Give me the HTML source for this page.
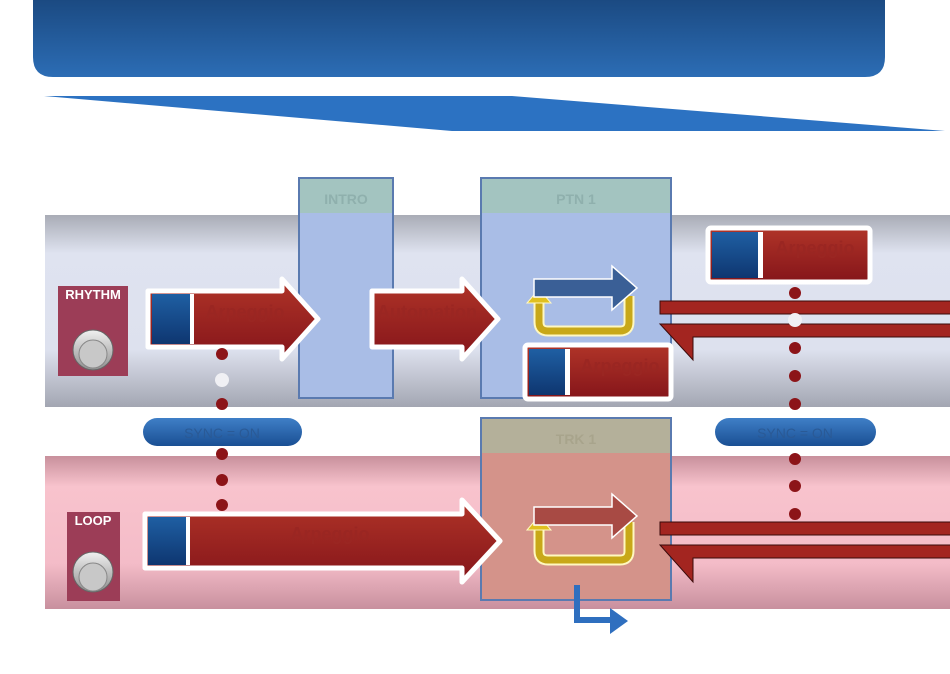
<!DOCTYPE html>
<html><head><meta charset="utf-8"><style>html,body{margin:0;padding:0;background:#fff}svg{display:block}</style></head><body>
<svg width="950" height="674" viewBox="0 0 950 674" xmlns="http://www.w3.org/2000/svg" font-family="Liberation Sans, sans-serif">
<defs>
<linearGradient id="ban" x1="0" y1="0" x2="0" y2="1"><stop offset="0" stop-color="#1b4a82"/><stop offset="1" stop-color="#2c6db5"/></linearGradient>
<linearGradient id="gray" x1="0" y1="0" x2="0" y2="1"><stop offset="0" stop-color="#a9acb6"/><stop offset="0.2" stop-color="#dfe3f0"/><stop offset="0.7" stop-color="#dde1ee"/><stop offset="1" stop-color="#a3a6b2"/></linearGradient>
<linearGradient id="pink" x1="0" y1="0" x2="0" y2="1"><stop offset="0" stop-color="#c8909c"/><stop offset="0.2" stop-color="#f8c3cd"/><stop offset="0.7" stop-color="#f4bcc8"/><stop offset="1" stop-color="#c8909e"/></linearGradient>
<linearGradient id="red" x1="0" y1="0" x2="0" y2="1"><stop offset="0" stop-color="#b03428"/><stop offset="1" stop-color="#85151a"/></linearGradient>
<linearGradient id="blu" x1="0" y1="0" x2="0" y2="1"><stop offset="0" stop-color="#1f5fa3"/><stop offset="1" stop-color="#0e3670"/></linearGradient>
<linearGradient id="pill" x1="0" y1="0" x2="0" y2="1"><stop offset="0" stop-color="#3f7fc7"/><stop offset="1" stop-color="#1a4f93"/></linearGradient>
<linearGradient id="btn" x1="0" y1="0" x2="0" y2="1"><stop offset="0" stop-color="#f0f0f0"/><stop offset="1" stop-color="#909090"/></linearGradient>
</defs>
<path d="M33 0H885V57Q885 77 865 77H53Q33 77 33 57Z" fill="url(#ban)"/>
<polygon points="44,96 512,96 945,131 452,131" fill="#2c72c2"/>
<rect x="45" y="215" width="905" height="192" fill="url(#gray)"/>
<rect x="45" y="456" width="905" height="153" fill="url(#pink)"/>
<rect x="299" y="178" width="94" height="220" fill="#a9bde6" stroke="#5a7ab0" stroke-width="2"/>
<rect x="300" y="179" width="92" height="34" fill="#a3c4c0"/>
<text x="346" y="204" text-anchor="middle" font-size="14" font-weight="bold" fill="#8fb0ad">INTRO</text>
<rect x="481" y="178" width="190" height="220" fill="#a9bde6" stroke="#5a7ab0" stroke-width="2"/>
<rect x="482" y="179" width="188" height="34" fill="#a3c4c0"/>
<text x="576" y="204" text-anchor="middle" font-size="14" font-weight="bold" fill="#8fb0ad">PTN 1</text>
<rect x="481" y="418" width="190" height="182" fill="#d4938a" stroke="#5a7ab0" stroke-width="2"/>
<rect x="482" y="419" width="188" height="34" fill="#b4b09a"/>
<text x="576" y="444" text-anchor="middle" font-size="14" font-weight="bold" fill="#a8a48c">TRK 1</text>
<rect x="58" y="286" width="70" height="90" fill="#9c3d57"/>
<text x="93" y="299" text-anchor="middle" font-size="13" font-weight="bold" fill="#fff">RHYTHM</text>
<circle cx="93" cy="350" r="20" fill="url(#btn)" stroke="#666"/><circle cx="93" cy="354" r="14" fill="#c8c8c8" stroke="#888"/>
<rect x="67" y="512" width="53" height="89" fill="#9c3d57"/>
<text x="93" y="525" text-anchor="middle" font-size="13" font-weight="bold" fill="#fff">LOOP</text>
<circle cx="93" cy="572" r="20" fill="url(#btn)" stroke="#666"/><circle cx="93" cy="577" r="14" fill="#c8c8c8" stroke="#888"/>
<g stroke="#fff" stroke-width="5" stroke-linejoin="round">
<path d="M148 291H282V279L318 319L282 359V347H148Z" fill="url(#red)"/>
<path d="M372 291H462V279L498 319L462 359V347H372Z" fill="url(#red)"/>
<path d="M145 514H462V500L500 541L462 582V568H145Z" fill="url(#red)"/>
<rect x="708" y="228" width="162" height="54" rx="3" fill="url(#red)"/>
<rect x="525" y="345" width="146" height="54" rx="3" fill="url(#red)"/>
</g>
<g font-size="18" font-weight="bold" fill="#9a2622" text-anchor="middle">
<text x="245" y="318">Arpeggio</text><text x="427" y="318">Automation</text>
<text x="330" y="540">Arpeggio</text><text x="815" y="254">Arpeggio</text><text x="620" y="372">Arpeggio</text>
</g>
<rect x="152" y="294" width="38" height="50" fill="url(#blu)"/><rect x="190" y="294" width="4" height="50" fill="#fff"/>
<rect x="148" y="517" width="38" height="48" fill="url(#blu)"/><rect x="186" y="517" width="4" height="48" fill="#fff"/>
<rect x="712" y="232" width="46" height="46" fill="url(#blu)"/><rect x="758" y="232" width="5" height="46" fill="#fff"/>
<rect x="529" y="349" width="36" height="46" fill="url(#blu)"/><rect x="565" y="349" width="5" height="46" fill="#fff"/>
<g stroke="#3a0a0a" stroke-width="1">
<rect x="660" y="301" width="295" height="13" fill="#a32520"/>
<path d="M955 324H660L693 360V337H955Z" fill="#a32520"/>
<rect x="660" y="522" width="295" height="13" fill="#a32520"/>
<path d="M955 545H660L693 582V558H955Z" fill="#a32520"/>
</g>
<g fill="none" stroke="#fff8c0" stroke-width="11" stroke-linejoin="round">
<path d="M539 300V322Q539 331 548 331H620Q629 331 629 322V296"/>
<path d="M539 528V551Q539 560 548 560H620Q629 560 629 551V522"/>
</g>
<g fill="none" stroke="#c8a818" stroke-width="7" stroke-linejoin="round">
<path d="M539 300V322Q539 331 548 331H620Q629 331 629 322V296"/>
<path d="M539 528V551Q539 560 548 560H620Q629 560 629 551V522"/>
</g>
<polygon points="527,303 539,289 551,303" fill="#e0c020" stroke="#fff8c0"/>
<polygon points="527,530 539,516 551,530" fill="#e0c020" stroke="#fff8c0"/>
<path d="M534 279H612V266L637 288L612 310V297H534Z" fill="#3a5f96" stroke="#fff" stroke-width="1.5"/>
<path d="M534 507H612V494L637 516L612 538V525H534Z" fill="#a84a44" stroke="#fff" stroke-width="1.5"/>
<path d="M577 585V620H612" fill="none" stroke="#2f6fbf" stroke-width="6"/>
<polygon points="610,608 628,621 610,634" fill="#2f6fbf"/>
<g fill="#8c1418">
<circle cx="222" cy="354" r="6"/><circle cx="222" cy="404" r="6"/><circle cx="222" cy="454" r="6"/><circle cx="222" cy="480" r="6"/><circle cx="222" cy="505" r="6"/>
<circle cx="795" cy="293" r="6"/><circle cx="795" cy="348" r="6"/><circle cx="795" cy="376" r="6"/><circle cx="795" cy="404" r="6"/><circle cx="795" cy="459" r="6"/><circle cx="795" cy="486" r="6"/><circle cx="795" cy="514" r="6"/>
</g>
<circle cx="222" cy="380" r="7" fill="#f0f0f4"/><circle cx="795" cy="320" r="7" fill="#f0f0f4"/>
<rect x="143" y="418" width="159" height="28" rx="14" fill="url(#pill)"/>
<text x="222" y="438" text-anchor="middle" font-size="14" fill="#2a5a96">SYNC = ON</text>
<rect x="715" y="418" width="161" height="28" rx="14" fill="url(#pill)"/>
<text x="795" y="438" text-anchor="middle" font-size="14" fill="#2a5a96">SYNC = ON</text>
</svg>
</body></html>
